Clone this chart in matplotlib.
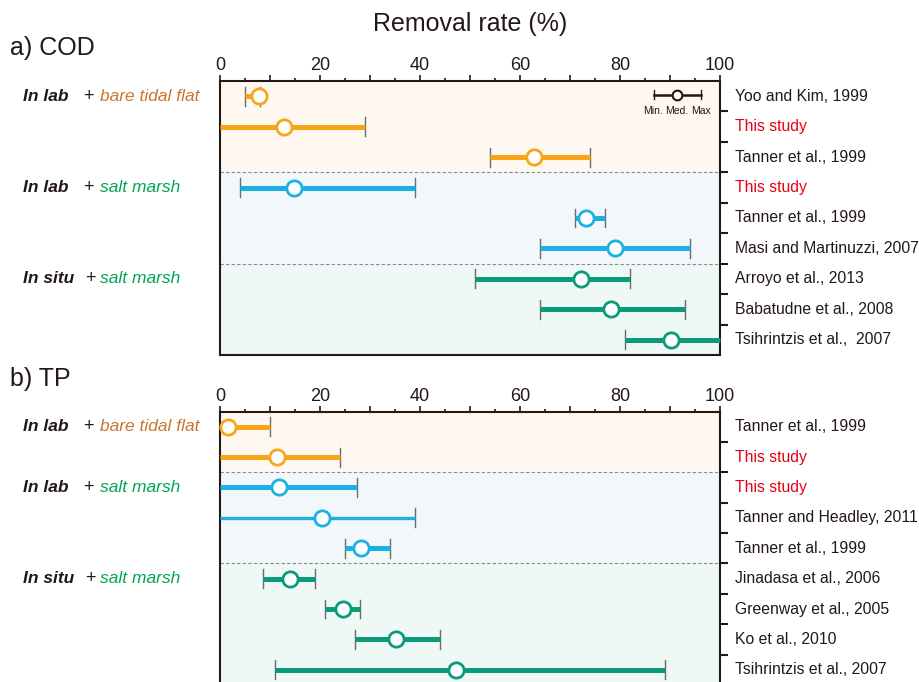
import matplotlib
matplotlib.use("Agg")
import matplotlib.pyplot as plt
import matplotlib.transforms as mtransforms
from matplotlib.ticker import MultipleLocator, FuncFormatter

plt.rcParams['font.family'] = ['Liberation Sans', 'DejaVu Sans']

# ---- data (min, median, max removal rate, %) ----
cod_refs = ["Yoo and Kim, 1999", "This study", "Tanner et al., 1999",
            "This study", "Tanner et al., 1999", "Masi and Martinuzzi, 2007",
            "Arroyo et al., 2013", "Babatudne et al., 2008", "Tsihrintzis et al.,  2007"]
cod_min = [5, 0, 54, 4, 71, 64, 51, 64, 81]
cod_med = [7.7, 12.8, 62.7, 14.7, 73.2, 78.9, 72.2, 78.2, 90.2]
cod_max = [8, 29, 74, 39, 77, 94, 82, 93, 100]
cod_group = [0, 0, 0, 1, 1, 1, 2, 2, 2]

tp_refs = ["Tanner et al., 1999", "This study", "This study",
           "Tanner and Headley, 2011", "Tanner et al., 1999", "Jinadasa et al., 2006",
           "Greenway et al., 2005", "Ko et al., 2010", "Tsihrintzis et al., 2007"]
tp_min = [0, 0, 0, 0, 25, 8.5, 21, 27, 11]
tp_med = [1.5, 11.3, 11.8, 20.3, 28.2, 14, 24.6, 35.2, 47.2]
tp_max = [10, 24, 27.3, 39, 34, 19, 28, 44, 89]
tp_group = [0, 0, 1, 1, 1, 2, 2, 2, 2]
tp_thin = [False, False, False, True, False, False, False, False, False]

group_text = [("In lab", "bare tidal flat"), ("In lab", "salt marsh"), ("In situ", "salt marsh")]
legend_sample = (86.7, 91.4, 96.1)

line_colors = ["#F9A51A", "#1CB1E2", "#0B9A7A"]
bg_colors = ["#FEF8F1", "#F1F7FB", "#EEF8F5"]
env_colors = ["#C8762F", "#00A651", "#00A651"]
dark = "#231815"

fig = plt.figure(figsize=(9.19, 6.82), dpi=100)
W, H = 919, 682


def make_axes(top_px, bottom_px):
    return fig.add_axes([220 / W, 1 - bottom_px / H, (720 - 220) / W, (bottom_px - top_px) / H])


def draw_panel(ax, refs, mins, meds, maxs, groups, thin=None):
    n = len(refs)
    ax.set_xlim(0, 100)
    ax.set_ylim(n - 0.5, -0.5)
    tr = mtransforms.blended_transform_factory(fig.transFigure, ax.transData)
    # background bands + group labels
    start = 0
    for i in range(1, n + 1):
        if i == n or groups[i] != groups[start]:
            g = groups[start]
            ax.axhspan(start - 0.5, i - 0.5, color=bg_colors[g], zorder=0, lw=0)
            if i < n:
                ax.axhline(i - 0.5, color="#8a8a8a", lw=0.8, ls=(0, (3, 2)), zorder=1)
            ax.text(23 / W, start, group_text[g][0], transform=tr, fontsize=12.5,
                    fontweight="bold", style="italic", color=dark, va="center")
            ax.text((83 if g < 2 else 85) / W, start, "+", transform=tr, fontsize=13,
                    color=dark, va="center")
            ax.text(100 / W, start, group_text[g][1], transform=tr, fontsize=12.5,
                    style="italic", color=env_colors[g], va="center")
            start = i
    for i in range(n):
        c = line_colors[groups[i]]
        lw = 2.4 if (thin is not None and thin[i]) else 3.6
        ax.plot([mins[i], maxs[i]], [i, i], color=c, lw=lw, solid_capstyle="butt", zorder=3, clip_on=False)
        for v in (mins[i], maxs[i]):
            if 0 < v < 100:
                ax.plot([v, v], [i - 0.31, i + 0.31], color="#6b6b6b", lw=1.0, zorder=2)
        ax.plot(meds[i], i, "o", ms=11, mfc="white", mec=c, mew=2.0, zorder=4, clip_on=False)
        ax.annotate(refs[i], xy=(1, i), xycoords=("axes fraction", "data"), xytext=(11, 0),
                    textcoords="offset points", va="center", ha="left", fontsize=11.3,
                    color="#E60012" if refs[i] == "This study" else dark)
    # axes styling
    ax.xaxis.tick_top()
    ax.xaxis.set_major_locator(MultipleLocator(10))
    ax.xaxis.set_minor_locator(MultipleLocator(5))
    ax.xaxis.set_major_formatter(FuncFormatter(lambda v, p: "%d" % v if v % 20 == 0 else ""))
    ax.tick_params(axis="x", which="major", length=4, width=1.2, labelsize=13, pad=1, colors=dark)
    ax.tick_params(axis="x", which="minor", length=2.2, width=1.2, colors=dark)
    ax.yaxis.tick_right()
    ax.set_yticks([i + 0.5 for i in range(n - 1)])
    ax.set_yticklabels([])
    ax.tick_params(axis="y", length=6, width=1.5, colors=dark)
    for s in ax.spines.values():
        s.set_linewidth(1.5)
        s.set_color(dark)


ax_a = make_axes(81, 355)
draw_panel(ax_a, cod_refs, cod_min, cod_med, cod_max, cod_group)
ax_b = make_axes(411.5, 685)
draw_panel(ax_b, tp_refs, tp_min, tp_med, tp_max, tp_group, tp_thin)

# small key in panel a
lo, md, hi = legend_sample
ax_a.plot([lo, hi], [-0.05, -0.05], color=dark, lw=1.8, zorder=3)
ax_a.plot([lo, lo], [-0.2, 0.1], color=dark, lw=1.0, zorder=3)
ax_a.plot([hi, hi], [-0.2, 0.1], color=dark, lw=1.0, zorder=3)
ax_a.plot(md, -0.05, "o", ms=7, mfc="white", mec=dark, mew=1.5, zorder=4)
for v, t in zip(legend_sample, ["Min.", "Med.", "Max"]):
    ax_a.text(v, 0.48, t, ha="center", va="center", fontsize=7.5, color=dark)

fig.text(470 / W, 1 - 24 / H, "Removal rate (%)", ha="center", va="center", fontsize=18, color=dark)
fig.text(10 / W, 1 - 48 / H, "a) COD", ha="left", va="center", fontsize=18, color=dark)
fig.text(10 / W, 1 - 379 / H, "b) TP", ha="left", va="center", fontsize=18, color=dark)

fig.savefig("out.png", dpi=100)
